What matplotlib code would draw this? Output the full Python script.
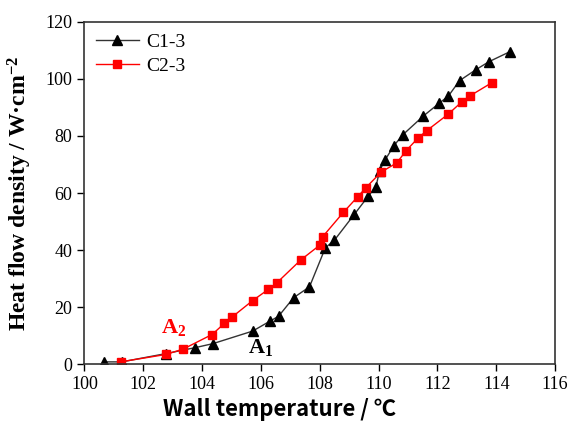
import matplotlib
matplotlib.use("Agg")
import matplotlib.pyplot as plt

# C1-3 (black triangles)
c1_temp = [100.66, 101.27, 102.77, 103.77, 104.37, 105.72, 106.31, 106.6, 107.11, 107.65,
           108.19, 108.5, 109.18, 109.64, 109.91, 110.03, 110.22, 110.52, 110.82, 111.52,
           112.06, 112.37, 112.75, 113.3, 113.74, 114.47]
c1_flux = [0.8, 0.8, 3.7, 5.8, 7.2, 11.6, 15.1, 16.8, 23.3, 27.1,
           40.8, 43.5, 52.6, 58.8, 62.2, 67.8, 71.6, 76.6, 80.4, 87.0,
           91.5, 94.0, 99.4, 103.2, 106.0, 109.6]

# C2-3 (red squares)
c2_temp = [101.23, 102.77, 103.36, 104.34, 104.76, 105.03, 105.72, 106.25, 106.54, 107.35,
           108.01, 108.1, 108.8, 109.29, 109.57, 110.08, 110.62, 110.93, 111.35, 111.64,
           112.37, 112.83, 113.11, 113.85]
c2_flux = [0.8, 3.4, 5.3, 10.4, 14.3, 16.6, 22.3, 26.2, 28.5, 36.5,
           41.8, 44.7, 53.2, 58.7, 61.9, 67.3, 70.6, 74.8, 79.4, 81.9,
           87.7, 92.0, 94.1, 98.7]

x_ticks = [100, 102, 104, 106, 108, 110, 112, 114, 116]
y_ticks = [0, 20, 40, 60, 80, 100, 120]

plt.rcParams['font.family'] = ['Liberation Serif', 'DejaVu Serif']
plt.rcParams['mathtext.fontset'] = 'custom'
plt.rcParams['mathtext.rm'] = 'Liberation Serif'
plt.rcParams['mathtext.bf'] = 'Liberation Serif:bold'
plt.rcParams['mathtext.it'] = 'Liberation Serif:italic'

fig = plt.figure(figsize=(5.7, 4.21), dpi=100)
ax = fig.add_axes([0.148, 0.135, 0.826, 0.813])

ax.plot(c1_temp, c1_flux, color='#333333', lw=1, marker='^', ms=7,
        mfc='black', mec='black', label='C1-3')
ax.plot(c2_temp, c2_flux, color='red', lw=1, marker='s', ms=6,
        mfc='red', mec='red', label='C2-3')

ax.set_xlim(100, 116)
ax.set_ylim(0, 120)
ax.set_xticks(x_ticks)
ax.set_yticks(y_ticks)
ax.set_xticklabels([str(v) for v in x_ticks], family='Liberation Serif')
ax.set_yticklabels([str(v) for v in y_ticks], family='Liberation Serif')
ax.tick_params(direction='out', length=5, width=1, labelsize=13, colors='black')
for s in ax.spines.values():
    s.set_linewidth(1.2)
    s.set_color('#333333')

ax.set_ylabel('Heat flow density / W·cm$^{\\mathbf{-2}}$', fontsize=17,
              fontweight='bold', labelpad=8)
ax.set_xlabel('Wall temperature / ℃', fontsize=16, fontweight='bold',
              family=['Noto Sans CJK SC', 'DejaVu Sans'], labelpad=2)
ax.xaxis.set_label_coords(0.415, -0.1)

ax.text(106.0, 6.0, 'A$_{\\mathbf{1}}$', fontsize=16, fontweight='bold',
        color='black', ha='center', va='center')
ax.text(103.05, 12.8, 'A$_{\\mathbf{2}}$', fontsize=16, fontweight='bold',
        color='red', ha='center', va='center')

ax.legend(loc='upper left', frameon=False, fontsize=14, handlelength=2.2,
          borderaxespad=0.2, handletextpad=0.4, labelspacing=0.3)

fig.savefig('out.png', dpi=100)
